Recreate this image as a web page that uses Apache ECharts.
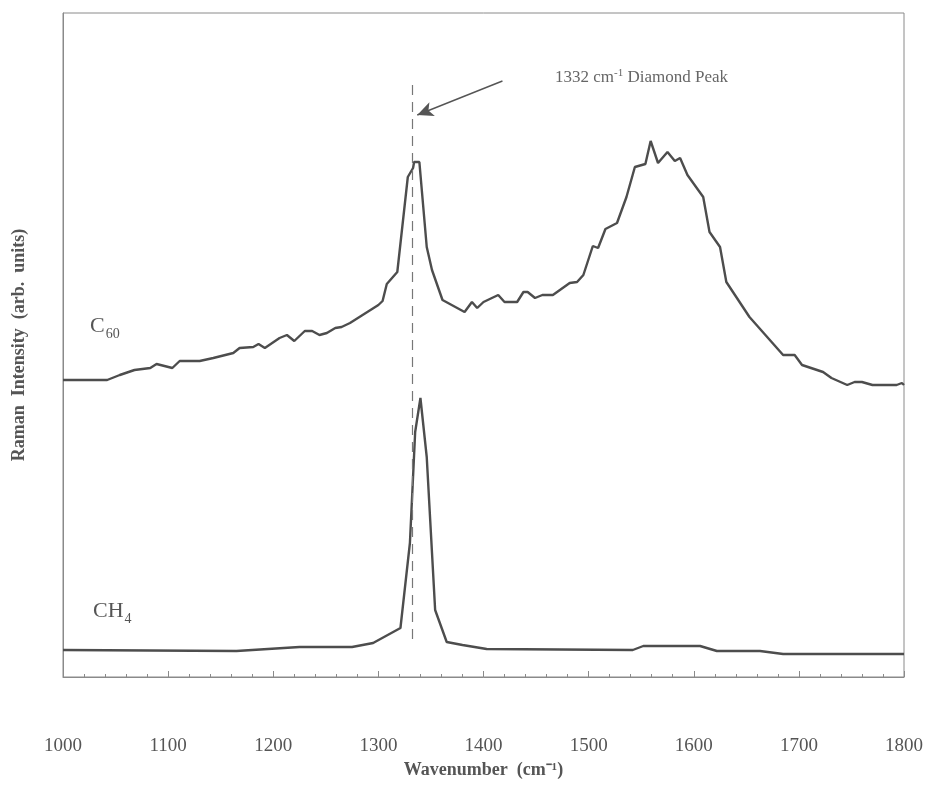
<!DOCTYPE html>
<html>
<head>
<meta charset="utf-8">
<script src="https://cdn.jsdelivr.net/npm/echarts@6/dist/echarts.min.js"></script>
<style>
  html, body { margin: 0; padding: 0; background: #fff; }
  #app { width: 934px; height: 798px; }
</style>
</head>
<body>
<div id="app"></div>
<script>
// wavenumber (cm-1), intensity (arb. units)
const c60Wave = [1000, 1042, 1054, 1068, 1083, 1089, 1104, 1111, 1130, 1143, 1162, 1168, 1181, 1186, 1192, 1206, 1213, 1220, 1230, 1237, 1244, 1251, 1259, 1265, 1273, 1300, 1304, 1308, 1318, 1328, 1333, 1334, 1339, 1346, 1351, 1361, 1382, 1389, 1394, 1400, 1414, 1420, 1432, 1438, 1442, 1449, 1456, 1466, 1482, 1489, 1495, 1504, 1509, 1516, 1527, 1536, 1544, 1554, 1559, 1566, 1575, 1582, 1587, 1594, 1609, 1615, 1625, 1631, 1653, 1685, 1696, 1703, 1723, 1731, 1746, 1753, 1760, 1770, 1793, 1798, 1800];
const c60Int = [297, 297, 302, 307, 309, 313, 309, 316, 316, 319, 324, 329, 330, 333, 329, 339, 342, 336, 346, 346, 342, 344, 349, 350, 354, 372, 376, 393, 405, 500, 509, 515, 515, 430, 407, 377, 365, 375, 369, 375, 382, 375, 375, 385, 385, 379, 382, 382, 394, 395, 402, 431, 429, 448, 454, 480, 510, 513, 536, 514, 525, 516, 519, 502, 480, 445, 430, 395, 360, 322, 322, 312, 305, 299, 292, 295, 295, 292, 292, 294, 292];

const ch4Wave = [1000, 1165, 1225, 1275, 1290, 1295, 1321, 1330, 1335, 1340, 1346, 1354, 1365, 1380, 1403, 1542, 1552, 1606, 1622, 1663, 1685, 1800];
const ch4Int = [27, 26, 30, 30, 33, 34, 49, 134, 245, 279, 220, 67, 35, 32, 28, 27, 31, 31, 26, 26, 23, 23];

const xTicks = [1000, 1100, 1200, 1300, 1400, 1500, 1600, 1700, 1800];
const diamondPeak = 1332;

const dom = document.getElementById("app");
const myChart = echarts.init(dom);

const serif = "Liberation Serif";
const lineColor = "#4d4d4d";
const axisColor = "#8a8a8a";

myChart.setOption({
  animation: false,
  grid: {
    left: 63,
    right: 30,
    top: 13,
    bottom: 121,
    outerBoundsMode: "none",
    show: true,
    borderColor: axisColor,
    borderWidth: 1
  },
  xAxis: {
    type: "value",
    min: xTicks[0],
    max: xTicks[xTicks.length - 1],
    interval: 100,
    name: "Wavenumber  (cm\u207B\u00B9)",
    nameLocation: "middle",
    nameGap: 78,
    nameTextStyle: {
      fontFamily: serif,
      fontWeight: "bold",
      fontSize: 18,
      color: "#555"
    },
    axisLine: { show: true, lineStyle: { color: axisColor, width: 1 } },
    axisTick: { show: true, inside: true, length: 6, lineStyle: { color: axisColor } },
    minorTick: { show: true, splitNumber: 5, length: 3, lineStyle: { color: axisColor } },
    splitLine: { show: false },
    axisLabel: {
      margin: 60,
      fontFamily: serif,
      fontSize: 19,
      color: "#555",
      formatter: (v) => String(v)
    }
  },
  yAxis: {
    type: "value",
    min: 0,
    max: 664,
    name: "Raman  Intensity  (arb.  units)",
    nameLocation: "middle",
    nameGap: 35,
    nameTextStyle: {
      fontFamily: serif,
      fontWeight: "bold",
      fontSize: 18,
      color: "#555"
    },
    axisLine: { show: true, lineStyle: { color: axisColor, width: 1 } },
    axisTick: { show: false },
    axisLabel: { show: false },
    splitLine: { show: false }
  },
  series: [
    {
      name: "C60",
      type: "line",
      showSymbol: false,
      data: c60Wave.map((w, i) => [w, c60Int[i]]),
      lineStyle: { color: lineColor, width: 2.4 },
      markLine: {
        silent: true,
        animation: false,
        label: { show: false },
        data: [
          [
            { coord: [diamondPeak, 592], symbol: "none" },
            { coord: [diamondPeak, 37], symbol: "none", lineStyle: { type: [10, 7], color: "#777", width: 1.2 } }
          ],
          [
            { coord: [1418, 596], symbol: "none" },
            { coord: [1337, 562], symbol: "arrow", symbolSize: [11, 16], lineStyle: { type: "solid", color: "#555", width: 1.4 } }
          ]
        ]
      }
    },
    {
      name: "CH4",
      type: "line",
      showSymbol: false,
      data: ch4Wave.map((w, i) => [w, ch4Int[i]]),
      lineStyle: { color: lineColor, width: 2.4 }
    }
  ],
  graphic: [
    {
      type: "text",
      left: 555,
      top: 68,
      style: {
        text: "1332 cm{sup|-1} Diamond Peak",
        fontFamily: serif,
        fontSize: 17,
        fill: "#666",
        rich: {
          sup: { fontFamily: serif, fontSize: 11, fill: "#666", padding: [0, 0, 9, 0] }
        }
      }
    },
    {
      type: "text",
      left: 90,
      top: 315,
      style: {
        text: "C{sub|60}",
        fontFamily: serif,
        fontSize: 22,
        fill: "#555",
        rich: {
          sub: { fontFamily: serif, fontSize: 14, fill: "#555", padding: [16, 0, 0, 1] }
        }
      }
    },
    {
      type: "text",
      left: 93,
      top: 600,
      style: {
        text: "CH{sub|4}",
        fontFamily: serif,
        fontSize: 22,
        fill: "#555",
        rich: {
          sub: { fontFamily: serif, fontSize: 14, fill: "#555", padding: [16, 0, 0, 1] }
        }
      }
    }
  ]
});
</script>
</body>
</html>
